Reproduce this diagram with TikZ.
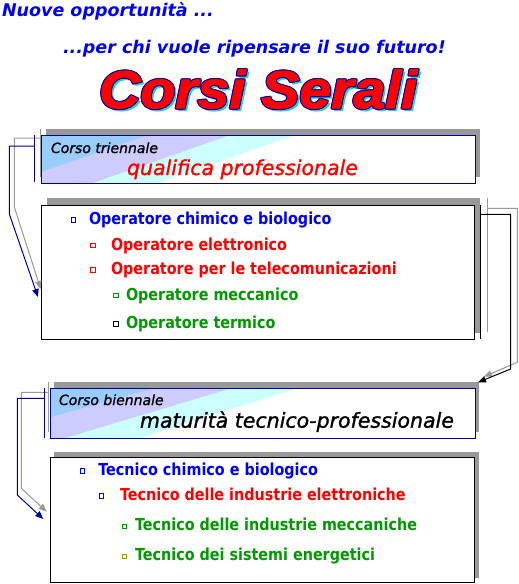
\documentclass[tikz,border=0pt]{standalone}
\usepackage{fontspec}
\usetikzlibrary{arrows.meta}
\newfontfamily\tahfont[FakeStretch=0.87]{DejaVu Sans}
\newfontfamily\verfont{DejaVu Sans}
\newfontfamily\verbfont[FakeBold=1.3]{DejaVu Sans}
\newfontfamily\arialfont[FakeStretch=1.08,FakeBold=2]{Liberation Sans}
\definecolor{navyc}{HTML}{000099}
\definecolor{shgray}{HTML}{999999}
\definecolor{bandblue}{HTML}{99CCFF}
\definecolor{bandlav}{HTML}{CCCCFF}
\definecolor{bandcyan}{HTML}{CCFFFF}
\definecolor{grn}{HTML}{009900}
\definecolor{olivec}{HTML}{999900}
\definecolor{cshadow}{HTML}{33CCCC}
\begin{document}
\begin{tikzpicture}[x=1pt,y=-1pt,
  txt/.style={anchor=base west,inner sep=0pt,outer sep=0pt},
  item/.style={txt,font=\tahfont\bfseries\fontsize{16.5}{18}\selectfont},
  bul/.style={draw,line width=1pt,minimum size=4.5pt,inner sep=0pt,outer sep=0pt},
  boxnode/.style={anchor=north west,inner sep=0pt,outer sep=0pt},
  conn/.style={line width=1pt},
  tipa/.style={-{Triangle[length=8pt,width=6.5pt]}},
  head/.style={txt,font=\verfont\bfseries\itshape\fontsize{17.5}{20}\selectfont,text=blue},
  small/.style={txt,font=\verbfont\itshape\fontsize{14}{16}\selectfont},
  big/.style={txt,font=\verbfont\itshape\fontsize{20.5}{24}\selectfont},
  cs/.style={txt,font=\arialfont\bfseries\itshape\fontsize{53}{60}\selectfont},
]
\useasboundingbox (0,0) rectangle (519,584);

% headings
\node[head] (h1) at (2,16) {Nuove opportunità ...};
\node[head] (h2) at (63,53.3) {...per chi vuole ripensare il suo futuro!};

% Corsi Serali
\node[cs,text=cshadow] (css) at (101.5,110.5) {Corsi Serali};
\foreach \dx/\dy [count=\k] in {-1/0,1/0,0/-1,0/1,-0.8/-0.8,0.8/-0.8,-0.8/0.8,0.8/0.8}
  \node[cs,text=navyc] (cso\k) at (99+\dx,108+\dy) {Corsi Serali};
\node[cs,text=red] (cs) at (99,108) {Corsi Serali};

% ---------- box 1: title triennale
\fill[shgray] (46,129) rectangle (480,177);
\node[boxnode,minimum width=434pt,minimum height=48pt] (t1) at (41,135) {};
\begin{scope}
  \clip (t1.north west) rectangle (t1.south east);
  \fill[white] (t1.north west) rectangle (t1.south east);
  \fill[bandcyan] (0,135) -- (295,135) -- (158,183) -- (0,183) -- cycle;
  \fill[bandlav] (0,135) -- (230,135) -- (93,183) -- (0,183) -- cycle;
  \fill[bandblue] (0,135) -- (148,135) -- (9,183) -- (0,183) -- cycle;
\end{scope}
\draw[navyc,line width=1pt] (t1.north west) rectangle (t1.south east);
\node[small] (c1) at (51,153) {Corso triennale};
\node[big,text=red] (q1) at (127,175) {qualifica professionale};

% ---------- box 3: operatore list
\fill[shgray] (47,198) rectangle (480,333);
\node[boxnode,minimum width=433pt,minimum height=134pt,draw=black,fill=white,line width=1pt] (l1) at (41,205) {};
\node[bul,draw=blue] (s11) at (73.5,219.8) {};
\node[item,text=blue] (i11) at (89,224) {Operatore chimico e biologico};
\node[bul,draw=red] (s12) at (92.8,245.3) {};
\node[item,text=red] (i12) at (111,250) {Operatore elettronico};
\node[bul,draw=red] (s13) at (92.8,270) {};
\node[item,text=red] (i13) at (111,274) {Operatore per le telecomunicazioni};
\node[bul,draw=grn] (s14) at (116,295.7) {};
\node[item,text=grn] (i14) at (126,300) {Operatore meccanico};
\node[bul,draw=black] (s15) at (116,324) {};
\node[item,text=grn] (i15) at (126,328.5) {Operatore termico};

% ---------- box 2: title biennale
\fill[shgray] (54,382) rectangle (479,432);
\node[boxnode,minimum width=425pt,minimum height=50pt] (t2) at (50,388) {};
\begin{scope}
  \clip (t2.north west) rectangle (t2.south east);
  \fill[white] (t2.north west) rectangle (t2.south east);
  \fill[bandcyan] (0,388) -- (298,388) -- (140,438) -- (0,438) -- cycle;
  \fill[bandlav] (0,388) -- (232,388) -- (65,438) -- (0,438) -- cycle;
  \fill[bandblue] (0,388) -- (155,388) -- (-25,438) -- (0,438) -- cycle;
\end{scope}
\draw[navyc,line width=1pt] (t2.north west) rectangle (t2.south east);
\node[small] (c2) at (59,405) {Corso biennale};
\node[big,text=black] (m2) at (140,427.7) {maturità tecnico-professionale};

% ---------- box 4: tecnico list
\fill[shgray] (54,452) rectangle (479,578);
\node[boxnode,minimum width=424pt,minimum height=125pt,draw=black,fill=white,line width=1pt] (l2) at (50,457) {};
\node[bul,draw=blue] (s21) at (82.7,471) {};
\node[item,text=blue] (i21) at (98.3,475) {Tecnico chimico e biologico};
\node[bul,draw=blue] (s22) at (101.7,496) {};
\node[item,text=red] (i22) at (120,500) {Tecnico delle industrie elettroniche};
\node[bul,draw=grn] (s23) at (124.7,526.7) {};
\node[item,text=grn] (i23) at (135,530.7) {Tecnico delle industrie meccaniche};
\node[bul,draw=olivec] (s24) at (124.7,556.7) {};
\node[item,text=grn] (i24) at (135,560.7) {Tecnico dei sistemi energetici};

% ---------- connectors
% box1 -> box3 (left)
\coordinate (g1a) at (40.3,129); \coordinate (g1b) at (40.3,177);
\coordinate (g1s) at (40.3,138); \coordinate (g1e) at (40.7,289);
\draw[shgray,conn] (g1a) -- (g1b);
\draw[shgray,conn,tipa] (g1s) -- (14.3,138) -- (14.3,207) -- (g1e);
\coordinate (n1a) at (34.7,135); \coordinate (n1b) at (34.7,182);
\coordinate (n1s) at (34.7,146); \coordinate (n1e) at (38,297);
\draw[navyc,conn] (n1a) -- (n1b);
\draw[navyc,conn,tipa] (n1s) -- (9.3,146) -- (9.3,214) -- (n1e);

% box3 -> box2 (right)
\coordinate (g2a) at (487.3,198); \coordinate (g2b) at (487.3,332);
\coordinate (g2s) at (487.3,208.3); \coordinate (g2e) at (484,376.7);
\draw[shgray,conn] (g2a) -- (g2b);
\draw[shgray,conn,tipa] (g2s) -- (517.3,208.3) -- (517.3,362.3) -- (g2e);
\coordinate (k2a) at (480.7,205); \coordinate (k2b) at (480.7,339);
\coordinate (k2s) at (480.7,214.3); \coordinate (k2e) at (478,382.3);
\draw[black,conn] (k2a) -- (k2b);
\draw[black,conn,tipa] (k2s) -- (510.7,214.3) -- (510.7,369) -- (k2e);

% box2 -> box4 (left)
\coordinate (g3a) at (48.7,382); \coordinate (g3b) at (48.7,431.7);
\coordinate (g3s) at (48.7,392.3); \coordinate (g3e) at (46.7,511.7);
\draw[shgray,conn] (g3a) -- (g3b);
\draw[shgray,conn,tipa] (g3s) -- (21.3,392.3) -- (21.3,488.3) -- (g3e);
\coordinate (n3a) at (44.3,388.3); \coordinate (n3b) at (44.3,437.7);
\coordinate (n3s) at (44.3,398.3); \coordinate (n3e) at (43.3,519);
\draw[navyc,conn] (n3a) -- (n3b);
\draw[navyc,conn,tipa] (n3s) -- (17.3,398.3) -- (17.3,495) -- (n3e);
\end{tikzpicture}
\end{document}
